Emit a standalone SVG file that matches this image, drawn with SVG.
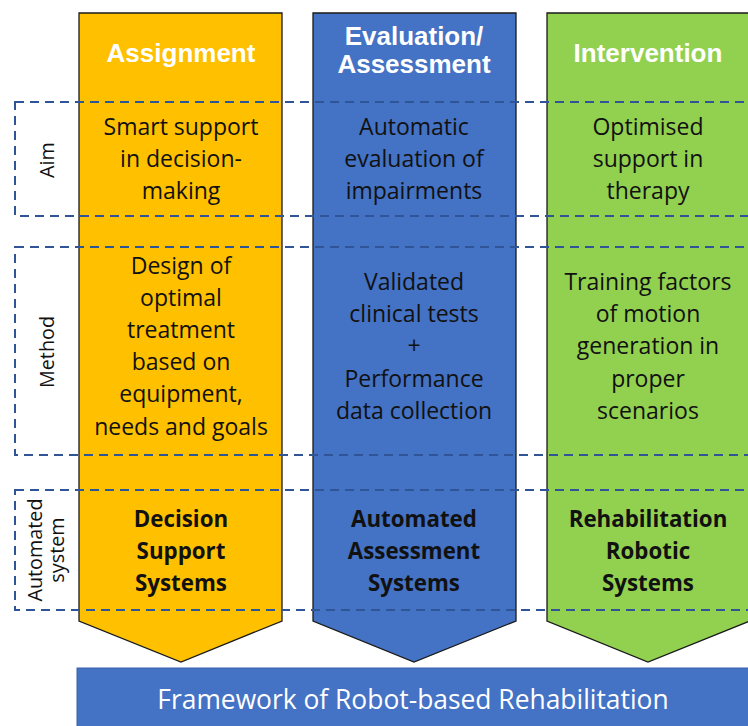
<svg xmlns="http://www.w3.org/2000/svg" width="748" height="726" viewBox="0 0 748 726">
<style>
.col{stroke:#1a1a1a;stroke-width:1.3}
.hd{font-family:"Liberation Sans",Arial,sans-serif;font-weight:bold;font-size:26px;fill:#fff;text-anchor:middle}
.bd{font-family:"Open Sans","Noto Sans",sans-serif;font-size:23px;fill:#111;text-anchor:middle}
.bb{font-family:"Open Sans","Noto Sans",sans-serif;font-size:22.3px;font-weight:bold;fill:#111;text-anchor:middle}
.lb{font-family:"Open Sans","Noto Sans",sans-serif;font-size:19.8px;fill:#111;text-anchor:middle}
.dash{fill:none;stroke:#2F5597;stroke-width:2;stroke-dasharray:9 6}
.fw{font-family:"Open Sans","Noto Sans",sans-serif;font-size:26.4px;fill:#fff;text-anchor:middle}
</style>
<rect width="748" height="726" fill="#fff"/>
<g id="framework">
<rect x="77" y="668" width="680" height="70" fill="#4472C4" stroke="#3a62a8" stroke-width="1"/>
<text class="fw" x="413" y="709">Framework of Robot-based Rehabilitation</text>
</g>
<g id="col-assignment">
<polygon class="col" points="79,13 282,13 282,621 181,662 79,621" fill="#FFC000"/>
<text class="hd" x="181" y="62">Assignment</text>
<text class="bd" x="181" y="135">Smart support</text>
<text class="bd" x="181" y="167">in decision-</text>
<text class="bd" x="181" y="199">making</text>
<text class="bd" x="181" y="274">Design of</text>
<text class="bd" x="181" y="306">optimal</text>
<text class="bd" x="181" y="338">treatment</text>
<text class="bd" x="181" y="370">based on</text>
<text class="bd" x="181" y="402">equipment,</text>
<text class="bd" x="181" y="435">needs and goals</text>
<text class="bb" x="181" y="527">Decision</text>
<text class="bb" x="181" y="559">Support</text>
<text class="bb" x="181" y="591">Systems</text>
</g>
<g id="col-evaluation">
<polygon class="col" points="313,13 516,13 516,621 414,662 313,621" fill="#4472C4"/>
<text class="hd" x="414" y="45">Evaluation/</text>
<text class="hd" x="414" y="73">Assessment</text>
<text class="bd" x="414" y="135">Automatic</text>
<text class="bd" x="414" y="167">evaluation of</text>
<text class="bd" x="414" y="199">impairments</text>
<text class="bd" x="414" y="290">Validated</text>
<text class="bd" x="414" y="322">clinical tests</text>
<text class="bd" x="414" y="354">+</text>
<text class="bd" x="414" y="387">Performance</text>
<text class="bd" x="414" y="419">data collection</text>
<text class="bb" x="414" y="527">Automated</text>
<text class="bb" x="414" y="559">Assessment</text>
<text class="bb" x="414" y="591">Systems</text>
</g>
<g id="col-intervention">
<polygon class="col" points="547,13 750,13 750,621 648,662 547,621" fill="#92D050"/>
<text class="hd" x="648" y="62">Intervention</text>
<text class="bd" x="648" y="135">Optimised</text>
<text class="bd" x="648" y="167">support in</text>
<text class="bd" x="648" y="199">therapy</text>
<text class="bd" x="648" y="290">Training factors</text>
<text class="bd" x="648" y="322">of motion</text>
<text class="bd" x="648" y="354">generation in</text>
<text class="bd" x="648" y="387">proper</text>
<text class="bd" x="648" y="419">scenarios</text>
<text class="bb" x="648" y="527">Rehabilitation</text>
<text class="bb" x="648" y="559">Robotic</text>
<text class="bb" x="648" y="591">Systems</text>
</g>
<g id="row-aim">
<rect class="dash" x="15" y="102" width="760" height="114"/>
<text class="lb" transform="translate(54,160) rotate(-90)">Aim</text>
</g>
<g id="row-method">
<rect class="dash" x="15" y="247" width="760" height="208"/>
<text class="lb" transform="translate(54,352) rotate(-90)">Method</text>
</g>
<g id="row-automated">
<rect class="dash" x="15" y="490" width="760" height="120"/>
<text class="lb" transform="translate(42,550) rotate(-90)">Automated</text>
<text class="lb" transform="translate(64,550) rotate(-90)">system</text>
</g>
</svg>
